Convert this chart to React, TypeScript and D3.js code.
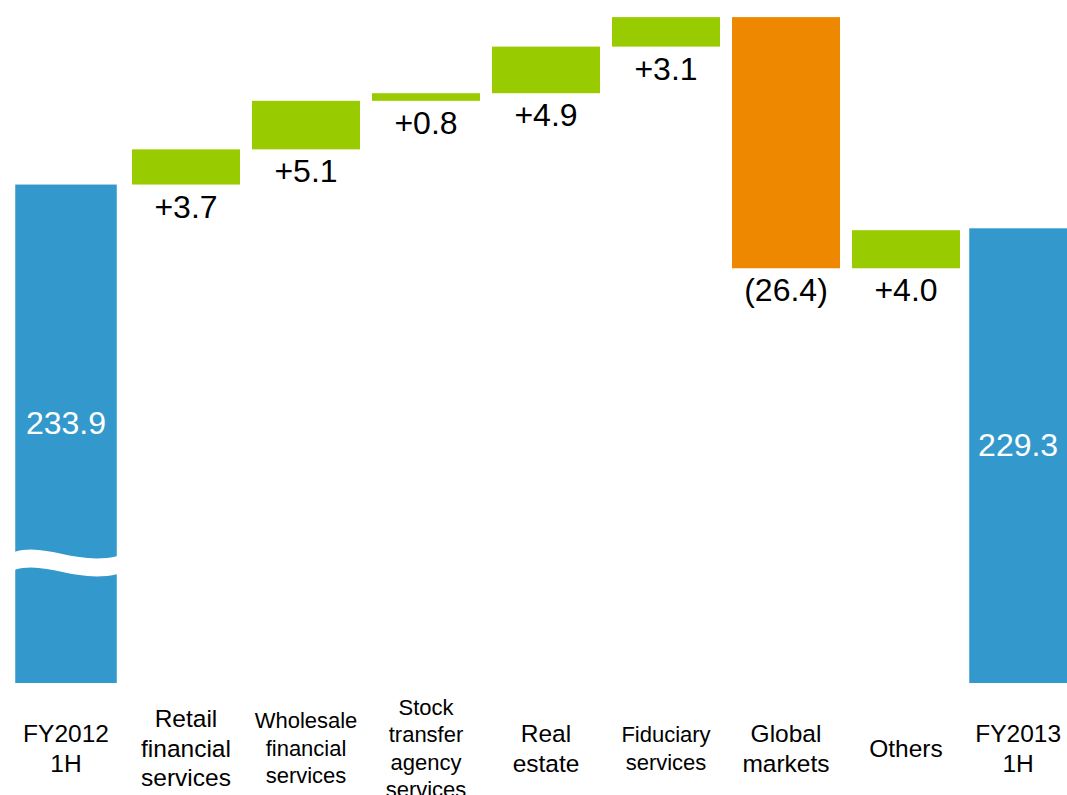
import React from "react";
import * as d3 from "d3";

const categories: string[][] = [
  ["FY2012", "1H"],
  ["Retail", "financial", "services"],
  ["Wholesale", "financial", "services"],
  ["Stock", "transfer", "agency", "services"],
  ["Real", "estate"],
  ["Fiduciary", "services"],
  ["Global", "markets"],
  ["Others"],
  ["FY2013", "1H"],
];
const smallLabel = [false, false, true, true, false, true, false, false, false];
const startValue = 233.9;
const deltas = [3.7, 5.1, 0.8, 4.9, 3.1, -26.4, 4.0];
const endValue = 229.3;
const valueLabels = ["233.9", "+3.7", "+5.1", "+0.8", "+4.9", "+3.1", "(26.4)", "+4.0", "229.3"];

const W = 1067;
const H = 795;
const BLUE = "#3399cc";
const GREEN = "#99cc00";
const ORANGE = "#ee8800";
const FONT = "'Liberation Sans', Arial, sans-serif";

type Bar = { i: number; lo: number; hi: number; kind: "total" | "up" | "down" };

export default function App() {
  const base = 181.5;
  const bars: Bar[] = [];
  bars.push({ i: 0, lo: base, hi: startValue, kind: "total" });
  let cum = startValue;
  deltas.forEach((d, k) => {
    const next = cum + d;
    bars.push({ i: k + 1, lo: Math.min(cum, next), hi: Math.max(cum, next), kind: d >= 0 ? "up" : "down" });
    cum = next;
  });
  bars.push({ i: 8, lo: base, hi: endValue, kind: "total" });

  const x = d3
    .scaleBand<number>()
    .domain(d3.range(categories.length))
    .range([6, 1086])
    .paddingInner(0.1)
    .paddingOuter(0.05);
  const y = d3.scaleLinear().domain([base, 253.3]).range([683, 0]);
  const bw = x.bandwidth();

  const color = (b: Bar) => (b.kind === "total" ? BLUE : b.kind === "up" ? GREEN : ORANGE);
  const barX = (b: Bar) => (b.kind === "total" ? x(b.i)! + bw * 0.03 - (b.i === 8 ? 6 : 0) : x(b.i)!);
  const barW = (b: Bar) => (b.kind === "total" ? bw * 0.94 : bw);
  const labelX = (i: number) => {
    const b = bars[i];
    const l = barX(b);
    const r = Math.min(l + barW(b), W);
    return (l + r) / 2;
  };

  const x0 = barX(bars[0]);
  const x1 = x0 + barW(bars[0]);
  const wy = 552;
  const th = 18;
  const wave =
    `M${x0 - 1},${wy} C${x0 + 30},${wy - 10} ${x0 + 62},${wy + 14} ${x1 + 1},${wy + 4}` +
    ` L${x1 + 1},${wy + 4 + th} C${x0 + 62},${wy + 14 + th} ${x0 + 30},${wy - 10 + th} ${x0 - 1},${wy + th} Z`;

  return (
    <svg
      width={W}
      height={H}
      style={{ position: "absolute", left: 0, top: 0, background: "#fff" }}
      fontFamily={FONT}
    >
      {bars.map((b) => (
        <rect
          key={"r" + b.i}
          x={barX(b)}
          y={y(b.hi)}
          width={barW(b)}
          height={y(b.lo) - y(b.hi)}
          fill={color(b)}
        />
      ))}
      <path d={wave} fill="#fff" />
      {bars.map((b) => {
        const cx = labelX(b.i);
        if (b.kind === "total") {
          const mid = (y(b.hi) + y(b.lo)) / 2;
          return (
            <text key={"v" + b.i} x={cx} y={mid} textAnchor="middle" fontSize={32} fill="#fff">
              {valueLabels[b.i]}
            </text>
          );
        }
        return (
          <text key={"v" + b.i} x={cx} y={y(b.lo) + 33} textAnchor="middle" fontSize={32} fill="#000">
            {valueLabels[b.i]}
          </text>
        );
      })}
      {categories.map((lines, i) => {
        const cx = labelX(i);
        const fs = smallLabel[i] ? 22 : 24.5;
        const lh = smallLabel[i] ? 27.5 : 29.5;
        const top = 748 - ((lines.length - 1) * lh) / 2;
        return (
          <text key={"c" + i} textAnchor="middle" fontSize={fs} fill="#000">
            {lines.map((l, k) => (
              <tspan key={k} x={cx} y={top + k * lh + fs * 0.36}>
                {l}
              </tspan>
            ))}
          </text>
        );
      })}
    </svg>
  );
}
